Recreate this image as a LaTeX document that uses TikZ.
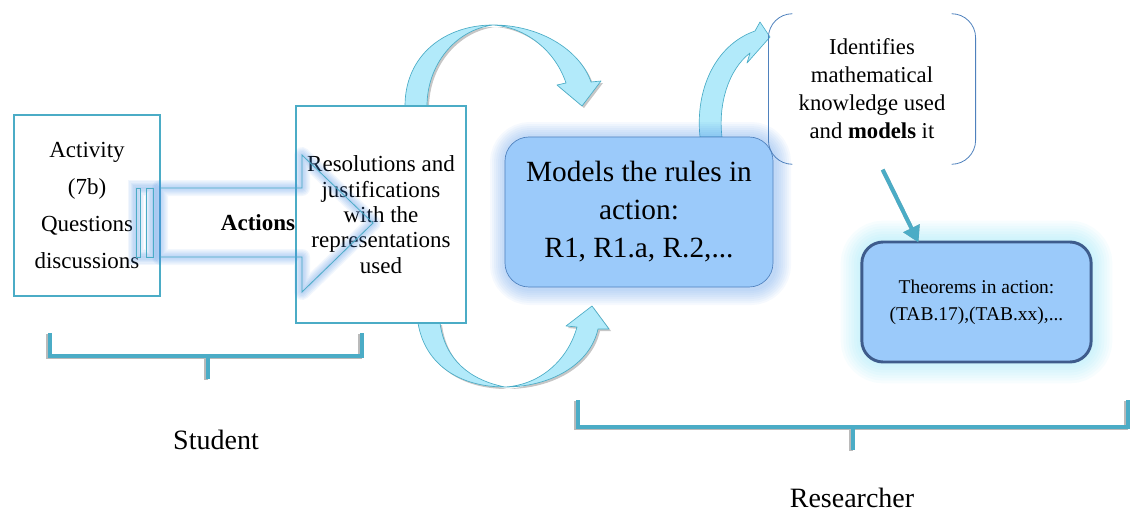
\documentclass[tikz,border=0pt]{standalone}
\usepackage{fontspec}
\setmainfont{Liberation Serif}
\usetikzlibrary{arrows.meta}

\definecolor{tealline}{RGB}{75,172,198}
\definecolor{bendfill}{RGB}{178,234,250}
\definecolor{modelfill}{RGB}{155,202,250}
\definecolor{glowblue}{RGB}{70,140,230}
\definecolor{glowcyan}{RGB}{125,222,245}
\definecolor{edgeblue}{RGB}{79,129,189}
\definecolor{darkedge}{RGB}{62,92,140}

\begin{document}
\begin{tikzpicture}[x=0.75pt,y=0.75pt,yscale=-1,xscale=1,
    plainbox/.style={draw=tealline, line width=1.6pt, fill=white, align=center, inner sep=0pt},
    bendarrow/.style={fill=bendfill, draw=tealline, line width=0.5pt, line join=round},
    bendshadow/.style={fill=black!50, opacity=0.45},
    bracketline/.style={draw=tealline, line width=3.6pt},
    bracketshadow/.style={draw=black!45, line width=3.6pt, opacity=0.6},
    rulebox/.style={fill=modelfill, draw=edgeblue, line width=0.5pt, rounded corners=18pt, align=center},
    theobox/.style={fill=modelfill, draw=darkedge, line width=2.2pt, rounded corners=16pt, align=center},
    grouplabel/.style={font={\fontsize{21}{25}\selectfont}}
]
    \path[use as bounding box] (0,0) rectangle (1132,514);

    %Curved arrows (behind the boxes)
    \fill[bendshadow, shift={(2,2)}] (405,106) .. controls (405,55) and (445,25) .. (493,25) .. controls (540,25) and (580,50) .. (591,82) -- (601,81) -- (582,106) -- (557,85) -- (566,83) .. controls (555,50) and (525,27) .. (493,25) .. controls (455,30) and (427,65) .. (427,106) -- cycle;
    \draw[bendarrow] (405,106) .. controls (405,55) and (445,25) .. (493,25) .. controls (540,25) and (580,50) .. (591,82) -- (601,81) -- (582,106) -- (557,85) -- (566,83) .. controls (555,50) and (525,27) .. (493,25) .. controls (455,30) and (427,65) .. (427,106) -- cycle;

    \fill[bendshadow, shift={(2,2)}] (418,323) .. controls (425,365) and (460,387) .. (505,387) .. controls (550,387) and (590,365) .. (598,329) -- (609,329) -- (592,306) -- (566,326) -- (577,327) .. controls (568,360) and (540,385) .. (505,387) .. controls (470,380) and (445,360) .. (440,323) -- cycle;
    \draw[bendarrow] (418,323) .. controls (425,365) and (460,387) .. (505,387) .. controls (550,387) and (590,365) .. (598,329) -- (609,329) -- (592,306) -- (566,326) -- (577,327) .. controls (568,360) and (540,385) .. (505,387) .. controls (470,380) and (445,360) .. (440,323) -- cycle;

    \draw[bendarrow] (700,137) .. controls (695,90) and (715,45) .. (755,31) -- (760,22) -- (770,37) -- (747,63) -- (750,53) .. controls (728,70) and (718,105) .. (722,137) -- cycle;

    %Student side
    \node[plainbox, minimum width=109.5pt, minimum height=135.75pt, font={\fontsize{17.25}{27.75}\selectfont}] (activity) at (87,205.5) {Activity\\(7b)\\Questions\\discussions};
    \node[plainbox, minimum width=127.5pt, minimum height=162.75pt, font={\fontsize{17.25}{19}\selectfont}] (resol) at (381,214.5) {Resolutions and\\justifications\\with the\\representations\\used};

    %Striped arrow with glow
    \foreach \i in {1,...,6} {
        \draw[glowblue, line width=2*\i pt, opacity=0.07, line join=round] (160,188) -- (302,188) -- (302,155) -- (373,223) -- (302,292) -- (302,257) -- (160,257) -- cycle;
        \draw[glowblue, line width=2*\i pt, opacity=0.07] (136,188) rectangle (153,257);
    }
    \draw[tealline, line width=0.6pt] (160,188) -- (302,188) -- (302,155) -- (373,223) -- (302,292) -- (302,257) -- (160,257);
    \draw[tealline, line width=0.6pt] (136,188) rectangle (140,257);
    \draw[tealline, line width=0.6pt] (146,188) rectangle (153,257);
    \node[font={\fontsize{17.25}{20}\selectfont\bfseries}] (actions) at (258,223) {Actions};

    %Researcher side
    \foreach \i in {1,...,8}
        \draw[glowblue, line width=3*\i pt, opacity=0.05, rounded corners=18pt] (506,138) rectangle (775,289);
    \node[rulebox, minimum width=201pt, minimum height=112.5pt, font={\fontsize{22}{28.5}\selectfont}] (rules) at (639,212) {Models the rules in\\action:\\R1, R1.a, R.2,...};

    \node[align=center, minimum width=155pt, minimum height=112.5pt, inner sep=0pt, font={\fontsize{17}{21}\selectfont}] (ident) at (872,89) {Identifies\\mathematical\\knowledge used\\and \textbf{models} it};
    \draw[edgeblue, line width=0.6pt, rounded corners=18pt] ([xshift=18pt]ident.north west) -- (ident.north west) -- (ident.south west) -- ([xshift=18pt]ident.south west);
    \draw[edgeblue, line width=0.6pt, rounded corners=18pt] ([xshift=-18pt]ident.north east) -- (ident.north east) -- (ident.south east) -- ([xshift=-18pt]ident.south east);

    \foreach \i in {1,...,8}
        \draw[glowcyan, line width=4*\i pt, opacity=0.06, rounded corners=16pt] (862,242) rectangle (1091,362);
    \node[theobox, minimum width=172pt, minimum height=90pt, font={\fontsize{14.6}{20}\selectfont}] (theo) at (976.5,302) {Theorems in action:\\(TAB.17),(TAB.xx),...};

    \draw[black!45, line width=3pt, opacity=0.6, -{Triangle[length=12pt,width=13pt]}, shift={(2,1)}] ([xshift=8pt,yshift=4pt]ident.south) -- ([xshift=-43.5pt,yshift=1.5pt]theo.north);
    \draw[tealline, line width=3pt, -{Triangle[length=12pt,width=13pt]}] ([xshift=8pt,yshift=4pt]ident.south) -- ([xshift=-43.5pt,yshift=1.5pt]theo.north);

    %Brackets
    \draw[bracketshadow, shift={(-2,1)}] (50,333) -- (50,356) -- (362,356) -- (362,333) (208,356) -- (208,379);
    \draw[bracketline] (50,333) -- (50,356) -- (362,356) -- (362,333) (208,356) -- (208,379);
    \draw[bracketshadow, shift={(-2,1)}] (578,400) -- (578,427) -- (1128,427) -- (1128,400) (853,427) -- (853,450);
    \draw[bracketline] (578,400) -- (578,427) -- (1128,427) -- (1128,400) (853,427) -- (853,450);

    \node[grouplabel] (student) at (216,440) {Student};
    \node[grouplabel] (researcher) at (852,498) {Researcher};

\end{tikzpicture}
\end{document}
